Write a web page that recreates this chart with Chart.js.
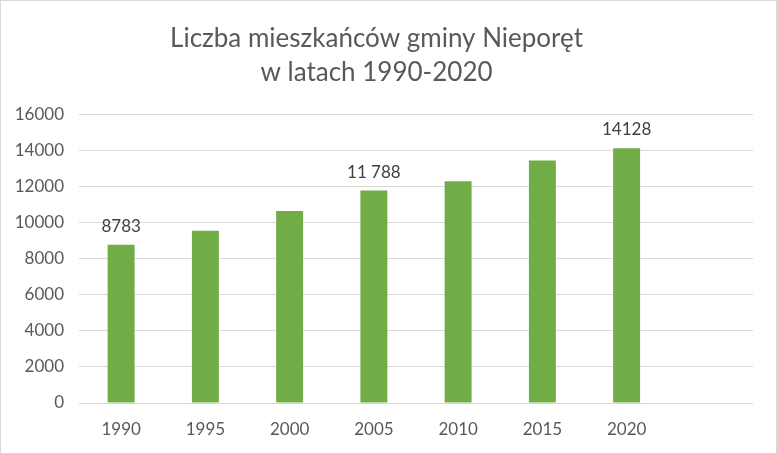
<!DOCTYPE html>
<html>
<head>
<meta charset="utf-8">
<script src="https://cdn.jsdelivr.net/npm/chart.js@4"></script>
<style>
  html,body{margin:0;padding:0;background:#fff;}
  #wrap{width:777px;height:454px;}
</style>
</head>
<body>
<div id="wrap"><canvas id="chart" width="777" height="454"></canvas></div>
<script>
// dane z wykresu
const lata = ['1990','1995','2000','2005','2010','2015','2020',''];
const mieszkancy = [8783, 9550, 10650, 11788, 12300, 13450, 14128, null];
const etykiety = ['8783', null, null, '11 788', null, null, '14128', null];
const tytul = ['Liczba mieszkańców gminy Nieporęt', 'w latach 1990-2020'];

const FONT = 'Lato, "Open Sans", sans-serif';

// etykiety danych nad wybranymi słupkami
const etykietyPlugin = {
  id:'etykiety',
  afterDatasetsDraw(chart){
    let ctx = chart.ctx;
    let meta = chart.getDatasetMeta(0);
    ctx.save();
    ctx.font = '17px ' + FONT;
    ctx.fillStyle = '#404040';
    ctx.textAlign = 'center';
    ctx.textBaseline = 'bottom';
    meta.data.forEach((bar,i)=>{
      if(!etykiety[i]) return;
      ctx.fillText(etykiety[i], bar.x, bar.y - 10);
    });
    ctx.restore();
  }
};

// ramka wokół wykresu
const ramkaPlugin = {
  id:'ramka',
  afterDraw(chart){
    let ctx = chart.ctx;
    ctx.save();
    ctx.strokeStyle = '#d9d9d9';
    ctx.lineWidth = 1;
    ctx.strokeRect(0.5, 0.5, chart.width-1, chart.height-1);
    ctx.restore();
  }
};

new Chart(document.getElementById('chart'), {
  type:'bar',
  data:{
    labels: lata,
    datasets:[{
      data: mieszkancy,
      backgroundColor:'#70ad47',
      categoryPercentage:1,
      barPercentage:0.32
    }]
  },
  options:{
    responsive:false,
    animation:false,
    layout:{padding:{left:0, right:24, top:0, bottom:0}},
    plugins:{
      legend:{display:false},
      tooltip:{enabled:false},
      title:{
        display:true,
        text: tytul,
        color:'#595959',
        font:{family:FONT, size:26, weight:'normal', lineHeight:1.3},
        padding:{top:22, bottom:25}
      }
    },
    scales:{
      x:{
        grid:{display:false},
        border:{display:false},
        ticks:{color:'#595959', font:{family:FONT, size:17}, padding:8, maxRotation:0},
        afterFit(s){ s.height = 51; }
      },
      y:{
        min:0, max:16000,
        grid:{color:'#d9d9d9', lineWidth:1, drawTicks:false},
        border:{display:false},
        ticks:{stepSize:2000, color:'#595959', font:{family:FONT, size:17}, padding:15,
               callback:v=>String(v)},
        afterFit(s){ s.width = 79; }
      }
    }
  },
  plugins:[etykietyPlugin, ramkaPlugin]
});
</script>
</body>
</html>
